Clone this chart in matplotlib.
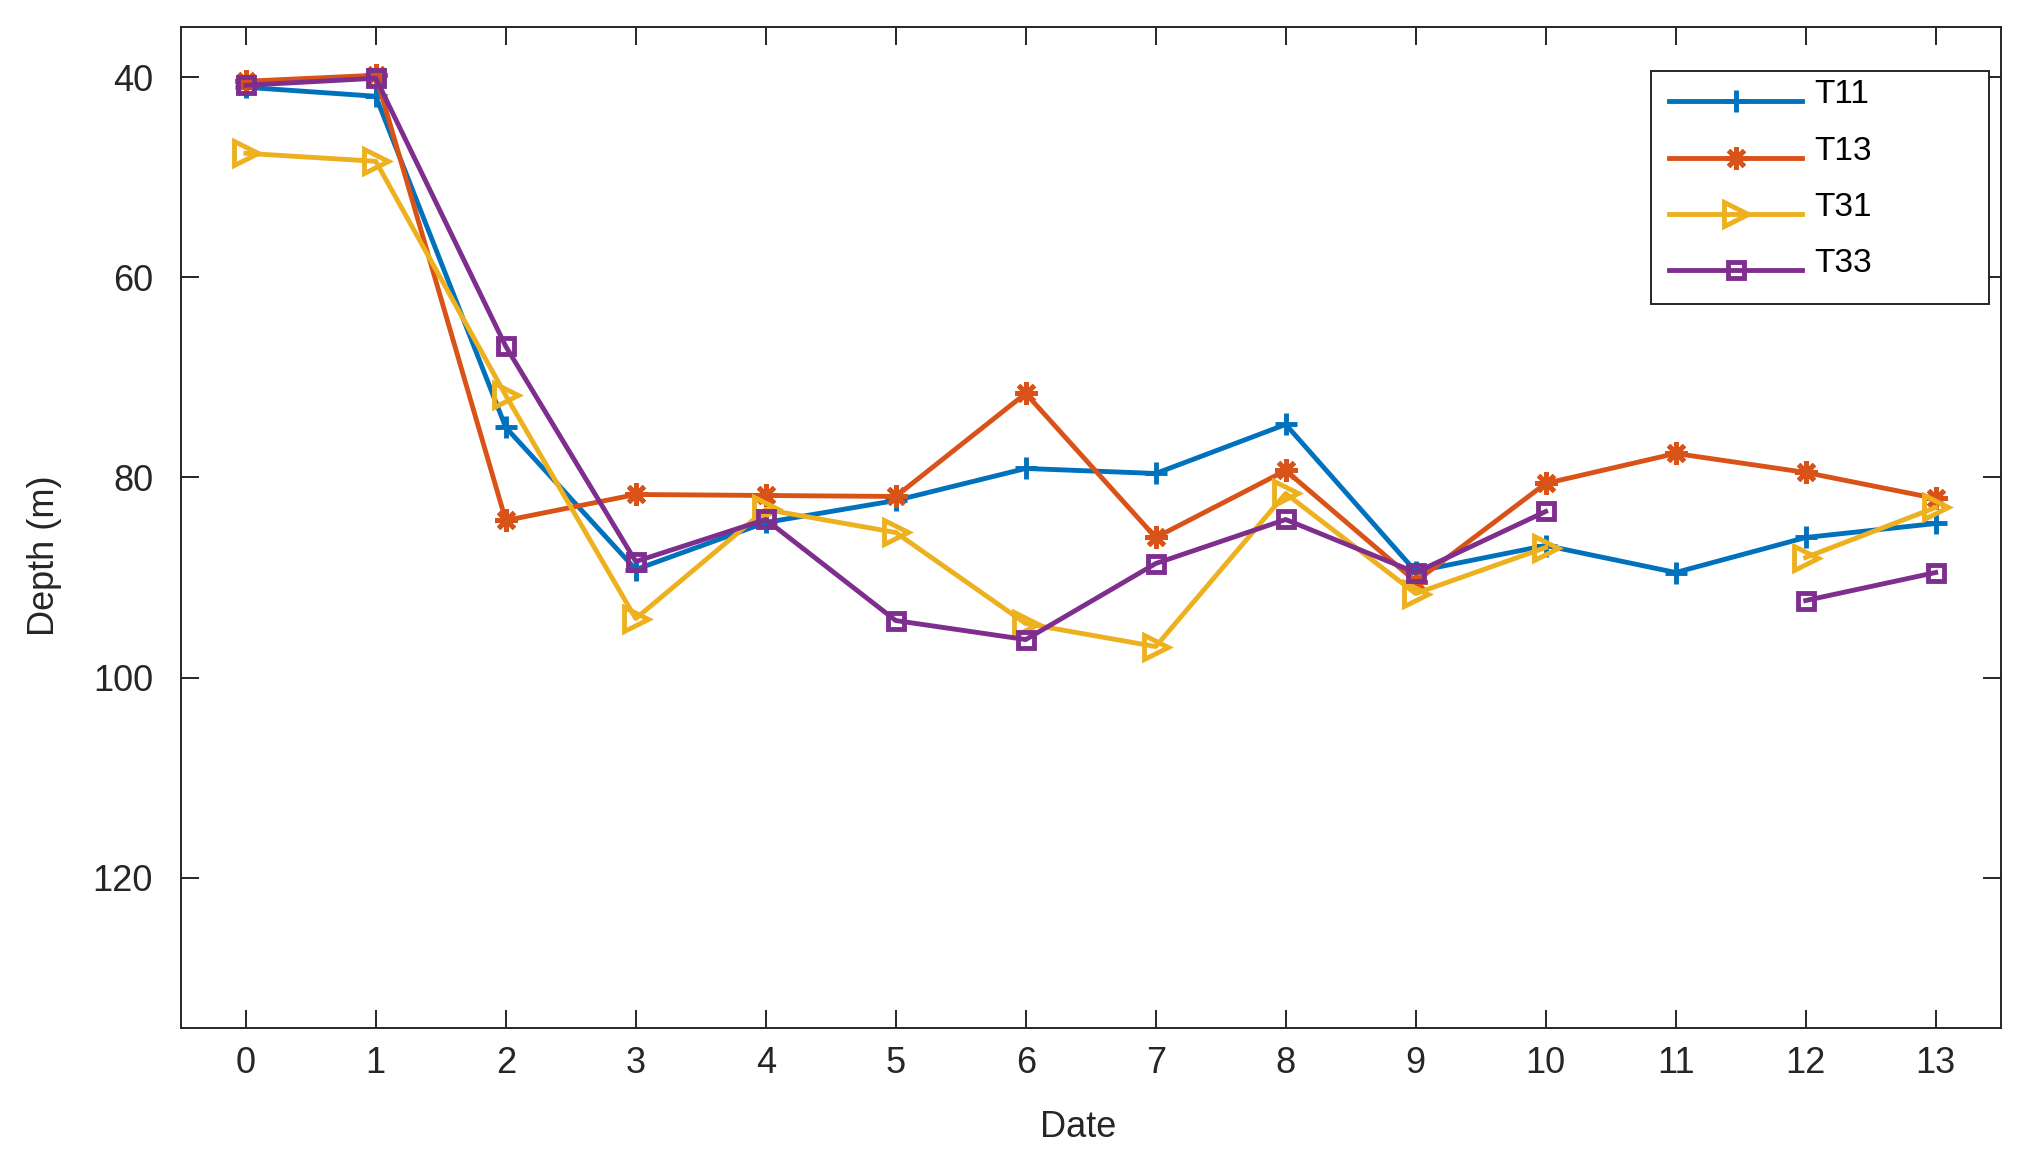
import numpy as np
import matplotlib
matplotlib.use("Agg")
import matplotlib.pyplot as plt
from matplotlib.patches import Rectangle
from matplotlib.transforms import ScaledTranslation

plt.rcParams['font.family'] = ['Liberation Sans', 'DejaVu Sans']

dates = list(range(14))
nan = np.nan
T11 = [41.0, 41.9, 75.0, 89.2, 84.5, 82.3, 79.1, 79.6, 74.7, 89.4, 86.8, 89.5, 86.0, 84.6]
T13 = [40.4, 39.8, 84.3, 81.7, 81.8, 81.9, 71.6, 86.0, 79.3, 90.4, 80.6, 77.6, 79.5, 82.1]
T31 = [47.6, 48.4, 71.8, 94.1, 83.2, 85.5, 94.6, 96.9, 81.6, 91.6, 87.0, nan, 88.0, 83.0]
T33 = [40.8, 40.1, 66.9, 88.4, 84.2, 94.3, 96.2, 88.6, 84.2, 89.5, 83.4, nan, 92.3, 89.5]
series_names = ['T11', 'T13', 'T31', 'T33']
yticks = [40, 60, 80, 100, 120]

colors = ['#0072BD', '#D95319', '#EDB120', '#7E2F8E']
markers = ['+', (8, 2, 0), '>', 's']
msizes = [16, 16, 17, 11]

fig = plt.figure(figsize=(20.27, 11.54), dpi=100)
ax = fig.add_axes([0.0892, 0.1094, 0.8978, 0.8670])

for vals, name, c, m, ms in zip([T11, T13, T31, T33], series_names, colors, markers, msizes):
    ax.plot(dates, vals, color=c, lw=3.5, marker=m, markersize=ms,
            markeredgewidth=3.5, markerfacecolor='none', markeredgecolor=c, label=name)

ax.set_xlim(-0.5, 13.5)
ax.set_ylim(135, 35)
ax.set_xticks(dates)
ax.set_yticks(yticks)
ax.tick_params(axis='both', direction='in', length=13, width=1.4, colors='#262626',
               labelsize=26, top=True, right=True)
ax.tick_params(axis='x', pad=13)
ax.tick_params(axis='y', pad=20)
for sp in ax.spines.values():
    sp.set_linewidth(1.4)
    sp.set_color('#262626')

ax.set_xlabel('Date', fontsize=26, color='#262626')
ax.set_ylabel('Depth (m)', fontsize=26, color='#262626')
ax.xaxis.set_label_coords(0.4932, -0.082)
ax.yaxis.set_label_coords(-0.0654, 0.4715)

# legend frame
ax.add_patch(Rectangle((0.8077, 0.7233), 0.9936 - 0.8077, 0.9565 - 0.7233,
                       transform=ax.transAxes, fill=True, facecolor='white',
                       edgecolor='#262626', lw=1.4, zorder=5))
leg = ax.legend(loc='upper left', bbox_to_anchor=(0.8077, 0.9565), frameon=False,
                fontsize=24, handlelength=4.0, handletextpad=0.35, borderpad=0.55,
                labelspacing=0.76, borderaxespad=0)
leg.set_zorder(6)
for t in leg.get_texts():
    t.set_transform(t.get_transform() + ScaledTranslation(0, 7 / 72, fig.dpi_scale_trans))

fig.savefig('out.png', dpi=100)
